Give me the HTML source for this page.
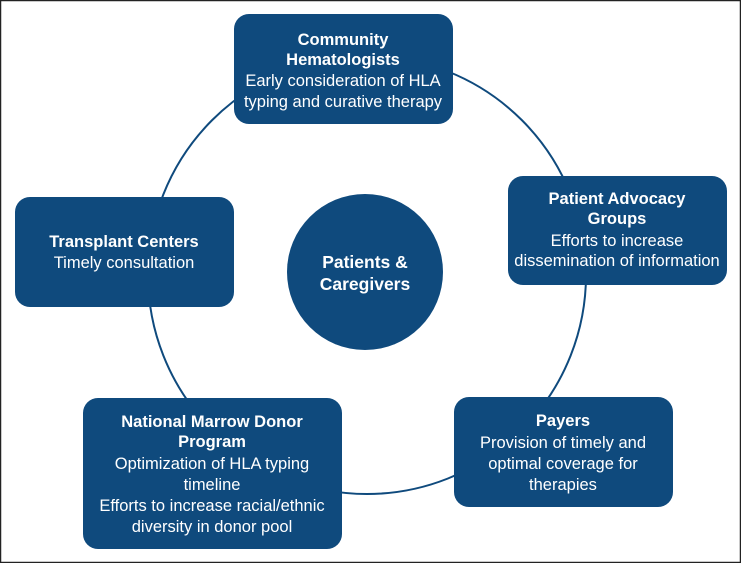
<!DOCTYPE html>
<html><head><style>
html,body{margin:0;padding:0;background:#fff}
svg{display:block}
text{font-family:"Liberation Sans",sans-serif;fill:#fff;font-size:16.5px}
.b{font-weight:bold}
.c{font-size:17.5px}
</style></head><body>
<svg width="741" height="563" viewBox="0 0 741 563">
<rect x="0.5" y="0.5" width="740" height="562" fill="#fff" stroke="#222" stroke-width="1.5"/>
<circle cx="367" cy="275" r="219" fill="none" stroke="#0f4a7d" stroke-width="2"/>
<g fill="#0f4a7d">
<rect x="234" y="14" width="219" height="110" rx="15"/>
<rect x="508" y="176" width="219" height="109" rx="15"/>
<rect x="15" y="197" width="219" height="110" rx="15"/>
<rect x="83" y="398" width="259" height="151" rx="15"/>
<rect x="454" y="397" width="219" height="110" rx="15"/>
<circle cx="365" cy="272" r="78"/>
</g>
<g text-anchor="middle">
<text x="343" y="45" class="b">Community</text>
<text x="343" y="65" class="b">Hematologists</text>
<text x="343" y="86">Early consideration of HLA</text>
<text x="343" y="107">typing and curative therapy</text>

<text x="617" y="204" class="b">Patient Advocacy</text>
<text x="617" y="224" class="b">Groups</text>
<text x="617" y="246">Efforts to increase</text>
<text x="617" y="266">dissemination of information</text>

<text x="124" y="247" class="b">Transplant Centers</text>
<text x="124" y="268">Timely consultation</text>

<text x="365" y="268" class="b c">Patients &amp;</text>
<text x="365" y="290" class="b c">Caregivers</text>

<text x="212" y="427" class="b">National Marrow Donor</text>
<text x="212" y="447" class="b">Program</text>
<text x="212" y="469">Optimization of HLA typing</text>
<text x="212" y="490">timeline</text>
<text x="212" y="511">Efforts to increase racial/ethnic</text>
<text x="212" y="532">diversity in donor pool</text>

<text x="563" y="426" class="b">Payers</text>
<text x="563" y="448">Provision of timely and</text>
<text x="563" y="469">optimal coverage for</text>
<text x="563" y="490">therapies</text>
</g>
</svg>
</body></html>
